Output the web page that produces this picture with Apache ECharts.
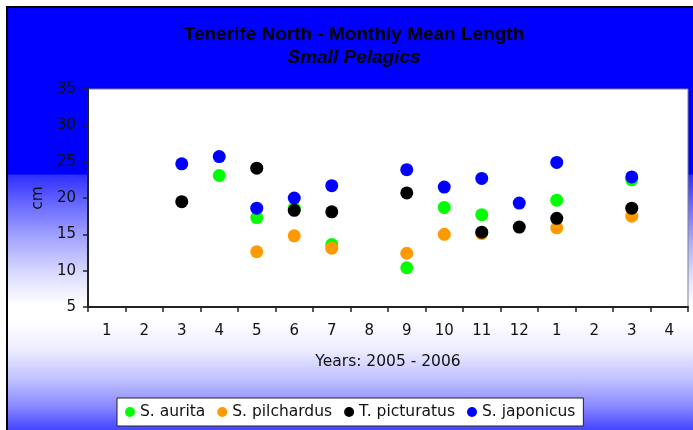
<!DOCTYPE html>
<html>
<head>
<meta charset="utf-8">
<script src="https://cdn.jsdelivr.net/npm/echarts@6/dist/echarts.min.js"></script>
<style>html,body{margin:0;padding:0;background:#fff;}#c{width:693px;height:430px;}</style>
</head>
<body>
<div id="c"></div>
<script>
// Month labels (2005 - 2006)
var categories = ['1','2','3','4','5','6','7','8','9','10','11','12','1','2','3','4'];
// Mean length (cm) per month, null = no sample
var sAurita     = [null, null, null, 23.1, 17.3, 18.6, 13.6, null, 10.4, 18.7, 17.7, null, 19.7, null, 22.5, null];
var sPilchardus = [null, null, null, null, 12.6, 14.8, 13.1, null, 12.4, 15.0, 15.1, null, 15.9, null, 17.5, null];
var tPicturatus = [null, null, 19.5, null, 24.1, 18.3, 18.1, null, 20.7, null, 15.3, 16.0, 17.2, null, 18.6, null];
var sJaponicus  = [null, null, 24.7, 25.7, 18.6, 20.0, 21.7, null, 23.9, 21.5, 22.7, 19.3, 24.9, null, 22.9, null];
var seriesNames = ['S. aurita', 'S. pilchardus', 'T. picturatus', 'S. japonicus'];
var yTicks = { min: 5, max: 35, interval: 5 };

var colors = ['#00ff00', '#ff9900', '#000000', '#0000ff'];
var seriesValues = [sAurita, sPilchardus, tPicturatus, sJaponicus];

function toPairs(arr) {
  var out = [];
  arr.forEach(function (v, i) { if (v !== null) out.push([i, v]); });
  return out;
}

var LAB = 'DejaVu Sans';
var chart = echarts.init(document.getElementById('c'), null, { renderer: 'canvas' });

var H = 430;
function f(y) { return y / H; }

chart.setOption({
  animation: false,
  backgroundColor: {
    type: 'linear', x: 0, y: 0, x2: 0, y2: 1,
    colorStops: [
      { offset: 0, color: '#0000ff' },
      { offset: f(174), color: '#0000ff' },
      { offset: f(175.2), color: '#3030ff' },
      { offset: f(205), color: '#6a6aff' },
      { offset: f(240), color: '#a8a8ff' },
      { offset: f(275), color: '#dcdcff' },
      { offset: f(305), color: '#ffffff' },
      { offset: f(320), color: '#ffffff' },
      { offset: f(350), color: '#ececff' },
      { offset: f(380), color: '#c0c0ff' },
      { offset: f(405), color: '#8c8cff' },
      { offset: 1, color: '#4545ff' }
    ]
  },
  graphic: [
    { type: 'rect', shape: { x: 0, y: 0, width: 693, height: 6 }, style: { fill: '#ffffff' }, silent: true },
    { type: 'rect', shape: { x: 0, y: 0, width: 6, height: 430 }, style: { fill: '#ffffff' }, silent: true },
    { type: 'rect', shape: { x: 6, y: 6, width: 687, height: 2 }, style: { fill: '#000000' }, silent: true },
    { type: 'rect', shape: { x: 6, y: 6, width: 2, height: 424 }, style: { fill: '#000000' }, silent: true }
  ],
  title: {
    text: 'Tenerife North - Monthly Mean Length',
    subtext: 'Small Pelagics',
    left: 354,
    top: 25,
    textAlign: 'center',
    padding: 0,
    itemGap: 4,
    textStyle: { fontFamily: 'Liberation Sans', fontSize: 19, fontWeight: 'bold', color: '#000' },
    subtextStyle: { fontFamily: 'Liberation Sans', fontSize: 19, fontWeight: 'bold', fontStyle: 'italic', color: '#000' }
  },
  legend: {
    data: seriesNames,
    left: 117,
    top: 398,
    orient: 'horizontal',
    icon: 'circle',
    itemWidth: 10,
    itemHeight: 10,
    itemGap: 12,
    padding: [6, 8, 6, 8],
    backgroundColor: '#ffffff',
    borderColor: '#222222',
    borderWidth: 1,
    borderRadius: 0,
    textStyle: { fontFamily: LAB, fontSize: 15.5, color: '#111' }
  },
  grid: {
    left: 88, right: 5, top: 89, bottom: 123,
    show: true,
    backgroundColor: '#ffffff',
    borderColor: '#808080',
    borderWidth: 1
  },
  xAxis: {
    type: 'category',
    data: categories,
    boundaryGap: true,
    name: 'Years: 2005 - 2006',
    nameLocation: 'middle',
    nameGap: 47,
    nameTextStyle: { fontFamily: LAB, fontSize: 15.5, color: '#111' },
    axisLine: { show: true, lineStyle: { color: '#222', width: 2 } },
    axisTick: { show: true, alignWithLabel: false, length: 5, lineStyle: { color: '#222', width: 1.5 } },
    axisLabel: { margin: 17, fontFamily: LAB, fontSize: 15, color: '#111', interval: 0 },
    splitLine: { show: false }
  },
  yAxis: {
    type: 'value',
    min: yTicks.min, max: yTicks.max, interval: yTicks.interval,
    name: 'cm',
    nameLocation: 'middle',
    nameGap: 35,
    nameRotate: 90,
    nameTextStyle: { fontFamily: LAB, fontSize: 15.5, color: '#111' },
    axisLine: { show: true, lineStyle: { color: '#222', width: 2 } },
    axisTick: { show: true, inside: false, length: 5, lineStyle: { color: '#222', width: 1.5 } },
    axisLabel: { margin: 12, fontFamily: LAB, fontSize: 15, color: '#111' },
    splitLine: { show: false }
  },
  series: seriesNames.map(function (n, k) {
    return {
      name: n,
      type: 'scatter',
      symbol: 'circle',
      symbolSize: 13,
      itemStyle: { color: colors[k], opacity: 1 },
      data: toPairs(seriesValues[k]),
      z: 2 + k
    };
  })
});
</script>
</body>
</html>
